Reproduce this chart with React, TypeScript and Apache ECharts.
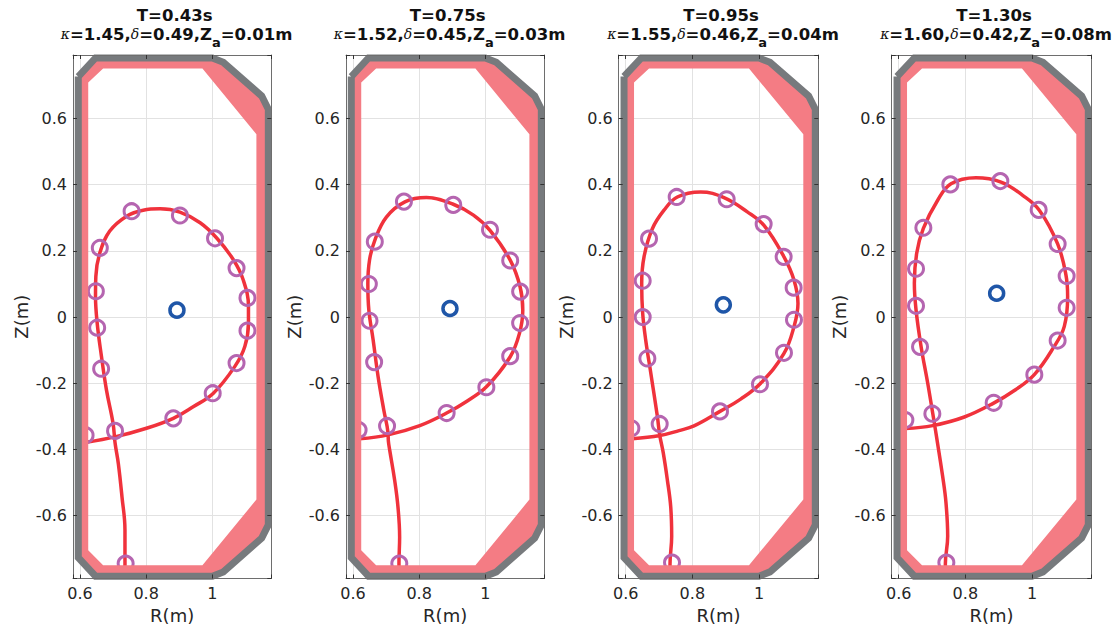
import React, { useEffect, useRef } from "react";
import * as echarts from "echarts";

const timeTitles = ["T=0.43s", "T=0.75s", "T=0.95s", "T=1.30s"];
const kappaValues = ["1.45", "1.52", "1.55", "1.60"];
const deltaValues = ["0.49", "0.45", "0.46", "0.42"];
const zaValues = ["0.01", "0.03", "0.04", "0.08"];

// Vessel wall centre line and inner limit of the shaded region (R, Z)
const wallRing = [
  [0.595, 0.727], [0.647, 0.783], [1.0, 0.783], [1.033, 0.77], [1.149, 0.668], [1.169, 0.628],
  [1.169, -0.628], [1.149, -0.668], [1.033, -0.77], [1.0, -0.783], [0.647, -0.783], [0.595, -0.727],
  [0.595, 0.727],
];
const innerRing = [
  [0.625, 0.709], [0.625, -0.705], [0.67, -0.75], [0.97, -0.75], [1.133, -0.5515],
  [1.133, 0.5525], [0.97, 0.751], [0.67, 0.751], [0.625, 0.709],
];

const boundary1 = [
  [0.736, -0.76], [0.736, -0.75], [0.736, -0.644], [0.727, -0.5436], [0.716, -0.443], [0.706, -0.38],
  [0.7, -0.321], [0.68, -0.22], [0.665, -0.119], [0.652, -0.018], [0.647, 0.063], [0.648, 0.123],
  [0.66, 0.194], [0.69, 0.26], [0.741, 0.305], [0.791, 0.323], [0.842, 0.327], [0.902, 0.317],
  [0.963, 0.285], [1.013, 0.239], [1.063, 0.174], [1.093, 0.113], [1.109, 0.032], [1.109, -0.018],
  [1.098, -0.089], [1.068, -0.149], [1.003, -0.23], [0.942, -0.271], [0.882, -0.306], [0.801, -0.336],
  [0.706, -0.362], [0.62, -0.378],
];
const boundary2 = [
  [0.739, -0.76], [0.739, -0.745], [0.741, -0.665], [0.736, -0.574], [0.726, -0.493], [0.711, -0.402],
  [0.707, -0.375], [0.706, -0.35], [0.693, -0.28], [0.676, -0.18], [0.661, -0.069], [0.648, 0.021],
  [0.645, 0.1], [0.65, 0.172], [0.666, 0.232], [0.701, 0.302], [0.757, 0.348], [0.822, 0.361],
  [0.903, 0.341], [0.964, 0.308], [1.014, 0.262], [1.075, 0.172], [1.105, 0.091], [1.113, 0.021],
  [1.103, -0.049], [1.075, -0.12], [1.004, -0.21], [0.943, -0.255], [0.883, -0.29], [0.802, -0.328],
  [0.706, -0.356], [0.62, -0.368],
];
const boundary3 = [
  [0.733, -0.76], [0.733, -0.747], [0.738, -0.662], [0.735, -0.572], [0.725, -0.492], [0.713, -0.412],
  [0.702, -0.356], [0.695, -0.3], [0.677, -0.18], [0.66, -0.069], [0.651, 0.011], [0.648, 0.1],
  [0.655, 0.182], [0.68, 0.267], [0.715, 0.323], [0.755, 0.363], [0.825, 0.378], [0.895, 0.361],
  [0.965, 0.318], [1.015, 0.277], [1.075, 0.182], [1.105, 0.112], [1.117, 0.041], [1.105, -0.029],
  [1.075, -0.11], [1.005, -0.2], [0.945, -0.248], [0.883, -0.285], [0.805, -0.329], [0.76, -0.343], [0.702, -0.358],
  [0.62, -0.368],
];
const boundary4 = [
  [0.74, -0.76], [0.74, -0.747], [0.747, -0.662], [0.742, -0.562], [0.732, -0.482], [0.712, -0.352],
  [0.702, -0.29], [0.687, -0.199], [0.667, -0.088], [0.652, 0.022], [0.647, 0.102], [0.654, 0.193],
  [0.674, 0.268], [0.717, 0.353], [0.757, 0.403], [0.832, 0.421], [0.907, 0.408], [0.972, 0.368],
  [1.022, 0.323], [1.077, 0.221], [1.102, 0.127], [1.107, 0.062], [1.097, -0.028], [1.067, -0.088],
  [1.007, -0.174], [0.947, -0.222], [0.885, -0.26], [0.797, -0.302], [0.702, -0.328], [0.62, -0.337],
];

const markers1 = [
  [0.756, 0.32], [0.902, 0.307], [1.008, 0.238], [1.073, 0.148], [1.106, 0.058], [1.106, -0.041],
  [1.073, -0.139], [1.001, -0.23], [0.882, -0.306], [0.706, -0.344], [0.617, -0.357], [0.66, 0.209],
  [0.648, 0.078], [0.652, -0.032], [0.664, -0.156], [0.738, -0.745],
];
const markers2 = [
  [0.754, 0.349], [0.903, 0.339], [1.014, 0.264], [1.075, 0.171], [1.105, 0.077], [1.105, -0.018],
  [1.075, -0.118], [1.003, -0.212], [0.883, -0.29], [0.703, -0.329], [0.617, -0.341], [0.666, 0.228],
  [0.648, 0.1], [0.65, -0.011], [0.664, -0.136], [0.74, -0.745],
];
const markers3 = [
  [0.753, 0.363], [0.903, 0.356], [1.014, 0.281], [1.074, 0.182], [1.104, 0.089], [1.105, -0.008],
  [1.075, -0.108], [1.003, -0.203], [0.883, -0.285], [0.702, -0.323], [0.617, -0.336], [0.67, 0.237],
  [0.651, 0.11], [0.651, 0], [0.665, -0.125], [0.739, -0.742],
];
const markers4 = [
  [0.755, 0.401], [0.905, 0.411], [1.02, 0.324], [1.077, 0.221], [1.104, 0.124], [1.104, 0.028],
  [1.077, -0.071], [1.007, -0.174], [0.885, -0.259], [0.701, -0.292], [0.62, -0.311], [0.674, 0.27],
  [0.652, 0.146], [0.652, 0.034], [0.664, -0.09], [0.743, -0.742],
];
const axisCentres = [[0.893, 0.021], [0.893, 0.026], [0.893, 0.037], [0.894, 0.072]];

const boundaries = [boundary1, boundary2, boundary3, boundary4];
const markerSets = [markers1, markers2, markers3, markers4];

const frameLefts = [73, 346, 618.7, 891.7];
const frameWidths = [198.3, 198.3, 199.6, 199.6];
const FONT = "DejaVu Sans";
const xMin = 0.579, xMax = 1.178, yMin = -0.79, yMax = 0.792;
const frameColor = "#6e6e6e", tickColor = "#333333", textColor = "#262626";

const shadedRing = [...wallRing, ...innerRing];

function buildOption() {
  const grid: any[] = [], xAxis: any[] = [], yAxis: any[] = [], series: any[] = [], title: any[] = [];
  frameLefts.forEach((left, i) => {
    grid.push({ left, width: frameWidths[i], top: 55, height: 523.5, containLabel: false });
    const commonX = { type: "value", gridIndex: i, min: xMin, max: xMax, splitNumber: 3 };
    const commonY = { type: "value", gridIndex: i, min: yMin, max: yMax, splitNumber: 8 };
    const xBase = xAxis.length, yBase = yAxis.length;
    xAxis.push({
      ...commonX, position: "bottom", z: 0,
      name: "R(m)", nameLocation: "middle", nameGap: 28,
      nameTextStyle: { fontFamily: FONT, fontSize: 18, color: textColor },
      axisLine: { show: false, onZero: false }, axisTick: { show: false },
      axisLabel: { fontFamily: FONT, fontSize: 16, color: textColor, margin: 7, showMinLabel: false, showMaxLabel: false },
      splitLine: { show: true, lineStyle: { color: "#e2e2e2", width: 1 } },
    });
    yAxis.push({
      ...commonY, position: "left", z: 0,
      name: "Z(m)", nameLocation: "middle", nameGap: 43,
      nameTextStyle: { fontFamily: FONT, fontSize: 18, color: textColor },
      axisLine: { show: false, onZero: false }, axisTick: { show: false },
      axisLabel: { fontFamily: FONT, fontSize: 16, color: textColor, margin: 6, showMinLabel: false, showMaxLabel: false },
      splitLine: { show: true, lineStyle: { color: "#e2e2e2", width: 1 } },
    });
    (["bottom", "top"] as const).forEach((position) => {
      xAxis.push({
        ...commonX, position, z: 6,
        axisLine: { show: true, onZero: false, lineStyle: { color: frameColor, width: 1 } },
        axisTick: { show: true, inside: true, length: 4, lineStyle: { color: tickColor, width: 1 } },
        axisLabel: { show: false }, splitLine: { show: false },
      });
    });
    (["left", "right"] as const).forEach((position) => {
      yAxis.push({
        ...commonY, position, z: 6,
        axisLine: { show: true, onZero: false, lineStyle: { color: frameColor, width: 1 } },
        axisTick: { show: true, inside: true, length: 4, lineStyle: { color: tickColor, width: 1 } },
        axisLabel: { show: false }, splitLine: { show: false },
      });
    });
    const axes = { xAxisIndex: xBase, yAxisIndex: yBase };
    series.push({
      type: "scatter", ...axes, data: markerSets[i], symbol: "circle", symbolSize: 15,
      itemStyle: { color: "rgba(0,0,0,0)", borderColor: "#B565B0", borderWidth: 3, opacity: 1 },
      silent: true, z: 2,
    });
    series.push({
      type: "line", ...axes, data: boundaries[i], symbol: "none", smooth: 0.4,
      lineStyle: { color: "#F0323C", width: 3.5 }, silent: true, z: 2,
    });
    series.push({
      type: "scatter", ...axes, data: [axisCentres[i]], symbol: "circle", symbolSize: 14,
      itemStyle: { color: "rgba(0,0,0,0)", borderColor: "#1F56A8", borderWidth: 3.5, opacity: 1 },
      silent: true, z: 2,
    });
    series.push({
      type: "custom", ...axes, data: shadedRing, encode: { x: 0, y: 1 }, silent: true, z: 3,
      renderItem: (params: any, api: any) => {
        if (params.dataIndex !== 0) return null;
        return {
          type: "polygon",
          shape: { points: shadedRing.map((p) => api.coord(p)) },
          style: { fill: "#F47C84" },
        };
      },
    });
    series.push({
      type: "line", ...axes, data: wallRing, symbol: "none",
      lineStyle: { color: "#777A7D", width: 7, join: "miter" }, silent: true, z: 4,
    });
    const centre = left + frameWidths[i] / 2;
    title.push({
      text: timeTitles[i], left: centre - 2.5, top: 2, textAlign: "center",
      textStyle: { fontFamily: FONT, fontSize: 16.5, fontWeight: "bold", color: "#111111" },
    });
    title.push({
      text: `{g|κ}=${kappaValues[i]},{g|δ}=${deltaValues[i]},Z{s|a}=${zaValues[i]}m`,
      left: centre - 0.5, top: 14, textAlign: "center",
      textStyle: {
        fontFamily: FONT, fontSize: 16.5, fontWeight: "bold", color: "#111111",
        rich: {
          g: { fontFamily: "DejaVu Serif", fontSize: 14, fontStyle: "italic", fontWeight: "normal", color: "#111111" },
          s: { fontFamily: FONT, fontSize: 13, fontWeight: "bold", color: "#111111", verticalAlign: "bottom", padding: [17, 0, 0, 0] },
        },
      },
    });
  });
  return { animation: false, backgroundColor: "#ffffff", grid, xAxis, yAxis, series, title };
}

export default function App() {
  const ref = useRef<HTMLDivElement>(null);
  useEffect(() => {
    const chart = echarts.init(ref.current!, undefined, { renderer: "svg" });
    chart.setOption(buildOption() as any);
    return () => chart.dispose();
  }, []);
  return <div ref={ref} style={{ position: "absolute", left: 0, top: 0, width: 1117, height: 633 }} />;
}
